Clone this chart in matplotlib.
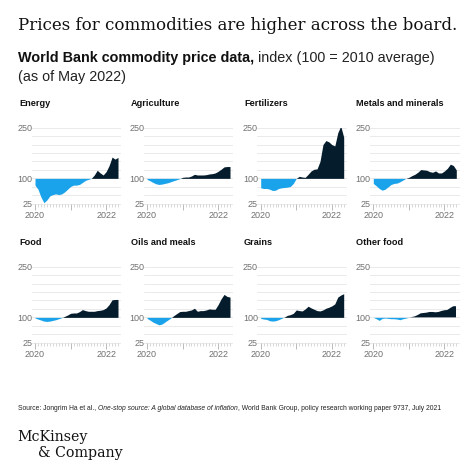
import numpy as np
import matplotlib
matplotlib.use('Agg')
import matplotlib.pyplot as plt
from matplotlib.ticker import FixedLocator

# monthly index values, Jan 2020 .. May 2022 (100 = 2010 average)
months = np.arange(29)
panel_names = ["Energy", "Agriculture", "Fertilizers", "Metals and minerals",
               "Food", "Oils and meals", "Grains", "Other food"]
energy = [80, 68, 45, 28, 36, 48, 52, 54, 52, 54, 60, 68, 76, 80, 80, 82, 88, 94, 97, 100,
          110, 124, 116, 110, 120, 138, 163, 157, 162]
agriculture = [97, 93, 88, 84, 82, 83, 85, 87, 90, 93, 96, 99, 103, 104, 104, 107, 112, 110,
               110, 110, 111, 113, 114, 116, 121, 127, 134, 135, 135]
fertilizers = [72, 70, 70, 68, 64, 65, 70, 72, 73, 74, 76, 85, 100, 106, 104, 103, 112, 122,
               127, 128, 150, 200, 212, 208, 200, 196, 235, 255, 222]
metals = [85, 78, 70, 65, 68, 75, 82, 85, 86, 90, 95, 100, 103, 108, 112, 118, 126, 125, 124,
          120, 118, 122, 116, 116, 122, 130, 142, 138, 125]
food = [98, 95, 92, 89, 88, 89, 91, 93, 96, 99, 103, 107, 112, 113, 113, 117, 123, 120, 118,
        118, 118, 120, 121, 123, 128, 138, 152, 153, 153]
oils = [97, 92, 86, 82, 78, 80, 86, 92, 98, 105, 111, 117, 118, 118, 120, 122, 127, 118, 120,
        120, 122, 125, 124, 124, 138, 155, 168, 162, 160]
grains = [97, 95, 94, 90, 89, 90, 93, 97, 101, 106, 108, 112, 122, 120, 119, 125, 133, 128,
          124, 120, 119, 122, 127, 130, 134, 140, 160, 166, 170]
other_food = [100, 96, 91, 97, 98, 97, 96, 96, 95, 93, 96, 98, 100, 101, 103, 107, 112, 113,
              114, 116, 116, 115, 116, 119, 121, 122, 128, 133, 133]
series = [energy, agriculture, fertilizers, metals, food, oils, grains, other_food]

y_ticks = [25, 100, 250]
x_tick_labels = {0: "2020", 24: "2022"}

BLUE = "#1aa3ea"
DARK = "#051c2c"
GRAY = "#707070"
SANS = "Liberation Sans"
SERIF = "DejaVu Serif"

W = H = 474
fig = plt.figure(figsize=(4.74, 4.74), dpi=100)
fig.patch.set_facecolor("white")


def fx(x):
    return x / W


def fy(y):
    return 1 - y / H


col_left = [35, 147, 260.7, 373.3]
ax_w = 83
row_top = [127.7, 266.7]
ax_h = 76
title_x = [19, 131, 244, 356]
title_y = [103, 243]

for i, (name, vals) in enumerate(zip(panel_names, series)):
    r, c = divmod(i, 4)
    ax = fig.add_axes([fx(col_left[c]), fy(row_top[r] + ax_h), fx(ax_w), ax_h / H])
    v = np.array(vals, dtype=float)
    ax.fill_between(months, 100, v, where=v >= 100, interpolate=True, color=DARK, lw=0)
    ax.fill_between(months, 100, v, where=v <= 100, interpolate=True, color=BLUE, lw=0)
    ax.set_xlim(0, 28)
    ax.set_ylim(25, 250)
    for g in range(25, 251, 25):
        ax.axhline(g, color="#e6e6e6", lw=0.6, zorder=0, xmin=-0.04, xmax=1.03, clip_on=False)
    for s in ax.spines.values():
        s.set_visible(False)
    ax.set_yticks(y_ticks)
    ax.set_yticklabels([str(t) for t in y_ticks])
    ax.tick_params(axis="y", length=0, pad=2, labelsize=6.5, labelcolor=GRAY)
    ax.xaxis.set_major_locator(FixedLocator([0, 12, 24]))
    ax.xaxis.set_minor_locator(FixedLocator(months))
    ax.set_xticklabels([x_tick_labels.get(t, "") for t in [0, 12, 24]])
    ax.tick_params(axis="x", which="major", length=4, width=0.6, color="#b0b0b0",
                   labelsize=6.5, labelcolor=GRAY, pad=1.5)
    ax.tick_params(axis="x", which="minor", length=2, width=0.5, color="#c8c8c8")
    for lab in ax.get_xticklabels() + ax.get_yticklabels():
        lab.set_fontfamily(SANS)
    ax.patch.set_alpha(0)
    fig.text(fx(title_x[c]), fy(title_y[r]), name, fontsize=6.6, fontweight="bold",
             family=SANS, va="center", ha="left", color="#111111")

renderer = fig.canvas.get_renderer()


def fit(t, target):
    w = t.get_window_extent(renderer).width
    t.set_fontsize(t.get_fontsize() * target / w)


def run(x, y, pieces, size, target=None):
    # draw consecutive pieces of text with different styles on one line
    texts = [fig.text(fx(x), fy(y), txt, fontsize=size, va="center", ha="left", **kw)
             for txt, kw in pieces]
    if target:
        total = sum(t.get_window_extent(renderer).width for t in texts)
        for t in texts:
            t.set_fontsize(size * target / total)
    for t in texts:
        t.set_x(fx(x))
        x += t.get_window_extent(renderer).width
    return texts


t = fig.text(fx(18), fy(25), "Prices for commodities are higher across the board.",
             family=SERIF, fontsize=12, va="center", ha="left", color="#111111")
fit(t, 438)

sub = [("World Bank commodity price data,", dict(family=SANS, fontweight="bold", color="#111111")),
       (" index (100 = 2010 average)", dict(family=SANS, color="#222222"))]
subs = run(18, 58, sub, 10, target=419)
fig.text(fx(18), fy(77), "(as of May 2022)", family=SANS, fontsize=subs[0].get_fontsize(),
         va="center", ha="left", color="#222222")

src = [("Source: Jongrim Ha et al., ", dict(family=SANS, color="#222222")),
       ("One-stop source: A global database of inflation",
        dict(family=SANS, style="italic", color="#222222")),
       (", World Bank Group, policy research working paper 9737, July 2021",
        dict(family=SANS, color="#222222"))]
run(18, 408, src, 5, target=429)

fig.text(fx(17), fy(437), "McKinsey", family=SERIF, fontsize=10.2, va="center", ha="left",
         color="#111111")
fig.text(fx(38), fy(453), "& Company", family=SERIF, fontsize=10.2, va="center", ha="left",
         color="#111111")

fig.savefig("out.png", dpi=100, facecolor="white")
